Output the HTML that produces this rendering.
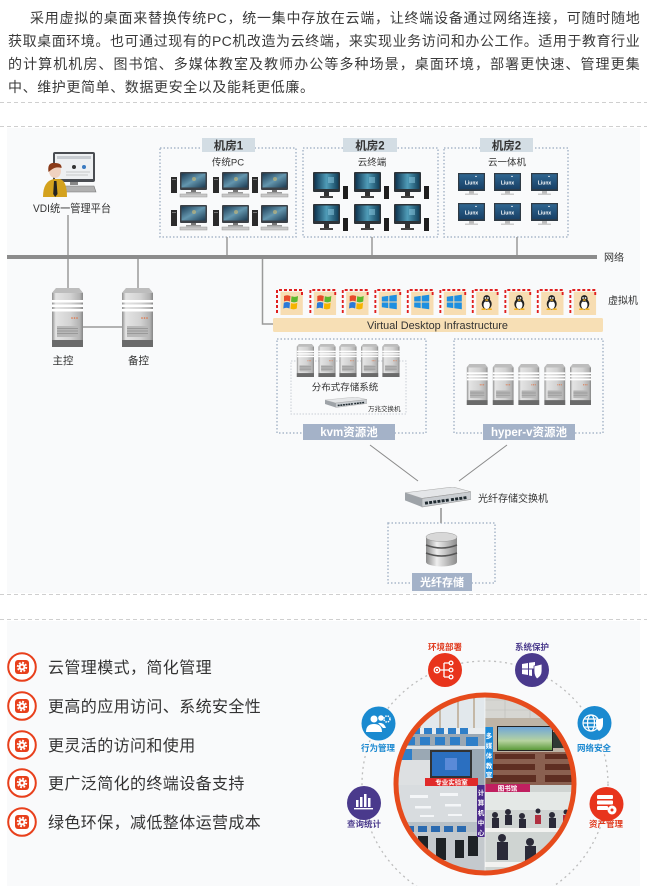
<!DOCTYPE html>
<html><head><meta charset="utf-8">
<style>
html,body{margin:0;padding:0;background:#fff;}
body{width:647px;height:886px;position:relative;overflow:hidden;font-family:"Liberation Sans","Noto Sans CJK SC",sans-serif;}
.p{position:absolute;left:8px;width:632px;font-size:14px;color:#3a3a3a;line-height:23px;height:23px;white-space:nowrap;letter-spacing:0.3px;}
.j{text-align:justify;text-align-last:justify;}
svg{position:absolute;left:0;top:0;}
</style></head><body>
<svg width="647" height="886" viewBox="0 0 647 886" font-family="Liberation Sans, Noto Sans CJK SC, sans-serif">
<defs>
<linearGradient id="scr1" x1="0" y1="0" x2="1" y2="1"><stop offset="0" stop-color="#1b3a52"/><stop offset="0.5" stop-color="#6496ae"/><stop offset="1" stop-color="#1b3a52"/></linearGradient>
<linearGradient id="scr2" x1="0" y1="0" x2="1" y2="0"><stop offset="0" stop-color="#0e3450"/><stop offset="0.5" stop-color="#4f9cb8"/><stop offset="1" stop-color="#13405a"/></linearGradient>
<linearGradient id="scr3" x1="0" y1="0" x2="0" y2="1"><stop offset="0" stop-color="#2f6590"/><stop offset="1" stop-color="#184066"/></linearGradient>
<linearGradient id="srvg" x1="0" y1="0" x2="1" y2="0"><stop offset="0" stop-color="#8e8e8e"/><stop offset="0.12" stop-color="#e4e4e4"/><stop offset="0.6" stop-color="#d2d2d2"/><stop offset="0.9" stop-color="#b2b2b2"/><stop offset="1" stop-color="#868686"/></linearGradient>
<linearGradient id="dbg" x1="0" y1="0" x2="1" y2="0"><stop offset="0" stop-color="#8a8a8a"/><stop offset="0.35" stop-color="#eeeeee"/><stop offset="1" stop-color="#8c8c8c"/></linearGradient>
<linearGradient id="sky" x1="0" y1="0" x2="0" y2="1"><stop offset="0" stop-color="#6fa6d8"/><stop offset="0.6" stop-color="#b6d3a0"/><stop offset="1" stop-color="#5c9a3a"/></linearGradient>

<symbol id="pcA" viewBox="0 0 37 26">
  <rect x="0" y="5" width="6" height="16" fill="#2b2b2b"/>
  <rect x="1" y="7" width="4" height="1" fill="#777"/>
  <rect x="9" y="0" width="27" height="18" rx="1" fill="#3b4046"/>
  <rect x="10.5" y="1.5" width="24" height="14" fill="url(#scr1)"/>
  <circle cx="23" cy="7" r="2" fill="#d8c070" opacity="0.55"/>
  <rect x="20" y="18" width="5" height="2" fill="#777"/>
  <rect x="15" y="20" width="15" height="1.5" fill="#999"/>
  <rect x="9" y="22" width="27" height="3" fill="#c8c8c8" stroke="#999" stroke-width="0.5"/>
</symbol>
<symbol id="pcB" viewBox="0 0 35 28">
  <rect x="0" y="0" width="27" height="20" rx="1" fill="#2d3338"/>
  <rect x="1.5" y="1.5" width="24" height="15.5" fill="url(#scr2)"/>
  <rect x="15" y="5" width="6" height="6" fill="#8cc8e0" opacity="0.5"/>
  <rect x="11" y="20" width="5" height="4" fill="#333"/>
  <rect x="7" y="24" width="13" height="2" fill="#444"/>
  <rect x="30" y="14" width="5" height="13" fill="#1e1e1e"/>
</symbol>
<symbol id="lnx" viewBox="0 0 27 23">
  <rect x="0" y="0" width="27" height="18" fill="#2f3a44"/>
  <rect x="1.2" y="1.2" width="24.6" height="15" fill="url(#scr3)"/>
  <text x="13.5" y="11.5" font-size="5" fill="#fff" text-anchor="middle" font-weight="bold">Liunx</text>
  <path d="M17,4 l1,-1.5 l1,1.5 z" fill="#fff"/>
  <rect x="11" y="18" width="5" height="2.5" fill="#bbb"/>
  <rect x="7" y="20.5" width="13" height="1.5" fill="#ccc"/>
</symbol>
<symbol id="srv" viewBox="0 0 31 59" preserveAspectRatio="none">
  <path d="M4,0 H27 L31,5 V59 H0 V5 Z" fill="url(#srvg)"/>
  <path d="M4,0 H27 L31,5 H0 Z" fill="#bdbdbd"/>
  <rect x="0" y="12" width="31" height="2.5" fill="#fff"/>
  <rect x="0" y="16.5" width="31" height="2.5" fill="#fff"/>
  <rect x="0" y="21" width="31" height="2.5" fill="#fff"/>
  <circle cx="20" cy="30" r="0.8" fill="#e07040"/><circle cx="22.5" cy="30" r="0.8" fill="#e07040"/><circle cx="25" cy="30" r="0.8" fill="#e07040"/>
  <rect x="5" y="38" width="21" height="11" fill="#b8b8b8"/>
  <path d="M5,40.5 H26 M5,43 H26 M5,45.5 H26" stroke="#8e8e8e" stroke-width="0.8"/>
  <rect x="0" y="52" width="31" height="7" fill="#6a6a6a"/>
</symbol>
<symbol id="sw" viewBox="0 0 66 22" preserveAspectRatio="none">
  <polygon points="0,6 48,0 66,5 17,12" fill="#e4e6e8" stroke="#aaa" stroke-width="0.6"/>
  <polygon points="17,12 66,5 66,13 17,21" fill="#c9cdd1" stroke="#999" stroke-width="0.6"/>
  <polygon points="0,6 17,12 17,21 0,14" fill="#9ea3a8"/>
  <path d="M20,17 L44,13.6" stroke="#1f2a30" stroke-width="3" stroke-dasharray="3 1.2"/>
  <path d="M46,13.3 L62,11" stroke="#1f2a30" stroke-width="3" stroke-dasharray="3 1.2"/>
</symbol>
<symbol id="xp" viewBox="0 0 16 16">
  <path d="M1,2 Q4,0.5 7.5,2 L7,7.5 Q4,6 1,7.5 Z" fill="#e84a2a"/>
  <path d="M8.5,2.3 Q12,3.5 15,2 L14.5,7.5 Q11.5,9 8,7.8 Z" fill="#5cb82e"/>
  <path d="M0.8,8.8 Q4,7.3 7,8.8 L6.5,14.5 Q3.5,13 0.3,14.5 Z" fill="#2a7ad8"/>
  <path d="M8,9.1 Q11.5,10.3 14.3,8.8 L13.8,14.5 Q10.8,16 7.5,14.8 Z" fill="#f5b400"/>
</symbol>
<symbol id="w8" viewBox="0 0 16 16">
  <path d="M0.5,2.8 L7,1.9 V7.5 H0.5 Z M8,1.8 L15.5,0.8 V7.5 H8 Z M0.5,8.5 H7 V14.1 L0.5,13.2 Z M8,8.5 H15.5 V15.2 L8,14.2 Z" fill="#1d8fe0"/>
</symbol>
<symbol id="tux" viewBox="0 0 16 16">
  <ellipse cx="8" cy="10" rx="5" ry="5.5" fill="#222"/>
  <ellipse cx="8" cy="11" rx="3.2" ry="4" fill="#fff"/>
  <circle cx="8" cy="4.5" r="3.4" fill="#222"/>
  <circle cx="6.8" cy="4" r="0.9" fill="#fff"/><circle cx="9.2" cy="4" r="0.9" fill="#fff"/>
  <ellipse cx="8" cy="6" rx="1.6" ry="0.8" fill="#f0b020"/>
  <ellipse cx="5" cy="15.2" rx="2.3" ry="0.9" fill="#f0b020"/><ellipse cx="11" cy="15.2" rx="2.3" ry="0.9" fill="#f0b020"/>
</symbol>
<symbol id="vmf" viewBox="0 0 27 26">
  <rect x="4.5" y="2.7" width="22.3" height="23.3" fill="#f7ddb2"/>
  <path d="M1,24 V1 H26 V8" fill="none" stroke="#e02020" stroke-width="2" stroke-dasharray="3 2"/>
</symbol>
<symbol id="gear" viewBox="0 0 30 30">
  <circle cx="15" cy="15" r="13.8" fill="#fff" stroke="#e8401c" stroke-width="2"/>
  <rect x="8" y="8" width="14" height="14" rx="3" fill="#e8401c"/>
  <circle cx="15" cy="15" r="4.2" fill="none" stroke="#fff" stroke-width="2" stroke-dasharray="1.8 1.5"/>
  <circle cx="15" cy="15" r="3.4" fill="#fff"/>
  <circle cx="15" cy="15" r="1.4" fill="#e8401c"/>
</symbol>
<clipPath id="cc"><circle cx="485" cy="784" r="88"/></clipPath>
</defs>

<g stroke="#cfcfcf" stroke-width="1" stroke-dasharray="4 3">
  <line x1="0" y1="102.5" x2="647" y2="102.5"/>
  <line x1="0" y1="126.5" x2="647" y2="126.5"/>
  <line x1="0" y1="594.5" x2="647" y2="594.5"/>
  <line x1="0" y1="619.5" x2="647" y2="619.5"/>
</g>
<rect x="7" y="128" width="633" height="465" fill="#f9fafb"/>
<rect x="7" y="621" width="633" height="265" fill="#f9fafb"/>

<!-- VDI admin -->
<rect x="53" y="152" width="42" height="30" rx="2" fill="#4a4d52"/>
<rect x="55" y="154" width="38" height="25" fill="#eef0f2"/>
<rect x="57" y="156" width="34" height="3" fill="#c9cdd2"/>
<circle cx="74" cy="167" r="2" fill="#333"/><circle cx="84" cy="167" r="2" fill="#3a7ac0"/>
<path d="M66,172 H90 M66,175 H88" stroke="#bbb" stroke-width="0.8"/>
<rect x="70" y="182" width="8" height="3" fill="#888"/>
<polygon points="58,186 94,186 96,192 56,192" fill="#b0b0b0" stroke="#777" stroke-width="0.6"/>
<path d="M43,197 Q43,181 54,179 L60,179 Q67,181 67,197 Z" fill="#d4a21e"/>
<polygon points="54,181 56.5,181 57.5,194 55.2,197 53.2,194" fill="#222"/>
<ellipse cx="55" cy="171" rx="6" ry="7" fill="#f0d2c0"/>
<path d="M48.5,172 Q47,162 55,163 Q62,163 61.5,168 Q56,166 51,170 Z" fill="#8a3a18"/>
<text x="33" y="212" font-size="11" fill="#333" textLength="78" lengthAdjust="spacingAndGlyphs">VDI统一管理平台</text>

<!-- rooms -->
<g fill="none" stroke="#a9b7c9" stroke-width="1.5" stroke-dasharray="1.5 2">
  <rect x="160" y="148" width="136" height="89"/>
  <rect x="303" y="148" width="135" height="89"/>
  <rect x="444" y="148" width="124" height="89"/>
</g>
<g fill="#d3dde4">
  <rect x="202" y="138" width="53" height="14"/>
  <rect x="343" y="138" width="54" height="14"/>
  <rect x="480" y="138" width="53" height="14"/>
</g>
<g font-size="11.5" font-weight="bold" fill="#333" text-anchor="middle">
  <text x="228.5" y="149.5">机房1</text>
  <text x="370" y="149.5">机房2</text>
  <text x="506.5" y="149.5">机房2</text>
</g>
<g font-size="9.5" fill="#333" text-anchor="middle">
  <text x="228" y="165.5">传统PC</text>
  <text x="372" y="165.5">云终端</text>
  <text x="507" y="165.5">云一体机</text>
</g>
<use href="#pcA" x="171" y="172" width="37" height="26"/>
<use href="#pcA" x="213" y="172" width="37" height="26"/>
<use href="#pcA" x="252" y="172" width="37" height="26"/>
<use href="#pcA" x="171" y="205" width="37" height="26"/>
<use href="#pcA" x="213" y="205" width="37" height="26"/>
<use href="#pcA" x="252" y="205" width="37" height="26"/>
<use href="#pcB" x="313" y="172" width="35" height="28"/>
<use href="#pcB" x="354" y="172" width="35" height="28"/>
<use href="#pcB" x="394" y="172" width="35" height="28"/>
<use href="#pcB" x="313" y="204" width="35" height="28"/>
<use href="#pcB" x="354" y="204" width="35" height="28"/>
<use href="#pcB" x="394" y="204" width="35" height="28"/>
<use href="#lnx" x="458" y="173" width="27" height="23"/>
<use href="#lnx" x="494" y="173" width="27" height="23"/>
<use href="#lnx" x="531" y="173" width="27" height="23"/>
<use href="#lnx" x="458" y="203" width="27" height="23"/>
<use href="#lnx" x="494" y="203" width="27" height="23"/>
<use href="#lnx" x="531" y="203" width="27" height="23"/>

<!-- connectors -->
<g stroke="#9a9a9a" stroke-width="1.5" fill="none">
  <line x1="68" y1="215" x2="68" y2="256"/>
  <line x1="227" y1="237" x2="227" y2="256"/>
  <line x1="372" y1="237" x2="372" y2="256"/>
  <line x1="517" y1="237" x2="517" y2="256"/>
  <line x1="68" y1="258" x2="68" y2="289"/>
  <line x1="138" y1="258" x2="138" y2="289"/>
  <line x1="83" y1="327" x2="122" y2="327"/>
  <path d="M262.5,258 V324 H274"/>
</g>
<rect x="7" y="255" width="590" height="4" fill="#8c8c8c"/>
<text x="604" y="261" font-size="10" fill="#333">网络</text>

<use href="#srv" x="52" y="288" width="31" height="59"/>
<use href="#srv" x="122" y="288" width="31" height="59"/>
<text x="63" y="364" font-size="10.5" fill="#333" text-anchor="middle">主控</text>
<text x="138.5" y="364" font-size="10.5" fill="#333" text-anchor="middle">备控</text>

<!-- VMs -->
<g>
  <use href="#vmf" x="276" y="289" width="27" height="26"/><use href="#xp" x="283" y="294" width="16" height="16"/>
  <use href="#vmf" x="309.3" y="289" width="27" height="26"/><use href="#xp" x="316.3" y="294" width="16" height="16"/>
  <use href="#vmf" x="341.7" y="289" width="27" height="26"/><use href="#xp" x="348.7" y="294" width="16" height="16"/>
  <use href="#vmf" x="374.3" y="289" width="27" height="26"/><use href="#w8" x="381.3" y="294" width="16" height="16"/>
  <use href="#vmf" x="406.7" y="289" width="27" height="26"/><use href="#w8" x="413.7" y="294" width="16" height="16"/>
  <use href="#vmf" x="439.3" y="289" width="27" height="26"/><use href="#w8" x="446.3" y="294" width="16" height="16"/>
  <use href="#vmf" x="471.7" y="289" width="27" height="26"/><use href="#tux" x="478.7" y="294" width="16" height="16"/>
  <use href="#vmf" x="504.3" y="289" width="27" height="26"/><use href="#tux" x="511.3" y="294" width="16" height="16"/>
  <use href="#vmf" x="536.7" y="289" width="27" height="26"/><use href="#tux" x="543.7" y="294" width="16" height="16"/>
  <use href="#vmf" x="569.3" y="289" width="27" height="26"/><use href="#tux" x="576.3" y="294" width="16" height="16"/>
</g>
<text x="608" y="304" font-size="10" fill="#333">虚拟机</text>
<rect x="273" y="318" width="330" height="14" rx="1.5" fill="#f7dfb5"/>
<text x="367" y="329" font-size="11" fill="#333" textLength="141" lengthAdjust="spacingAndGlyphs">Virtual Desktop Infrastructure</text>

<!-- pools -->
<g fill="none" stroke="#a9b7c9" stroke-width="1.5" stroke-dasharray="1.5 2">
  <rect x="277" y="339" width="149" height="94"/>
  <rect x="454" y="339" width="149" height="94"/>
  <rect x="388" y="523" width="107" height="60"/>
</g>
<rect x="291" y="361" width="115" height="53" fill="none" stroke="#c9ced6" stroke-width="1" stroke-dasharray="1.5 1.5"/>
<use href="#srv" x="296.7" y="344" width="17.3" height="33"/>
<use href="#srv" x="318.3" y="344" width="17.3" height="33"/>
<use href="#srv" x="339.3" y="344" width="17.3" height="33"/>
<use href="#srv" x="361" y="344" width="17.3" height="33"/>
<use href="#srv" x="382.3" y="344" width="17.3" height="33"/>
<text x="345" y="390.5" font-size="9.5" fill="#333" text-anchor="middle">分布式存储系统</text>
<use href="#sw" x="325" y="397" width="42" height="11"/>
<text x="368" y="411" font-size="6.5" fill="#333">万兆交换机</text>
<use href="#srv" x="466.7" y="364" width="21" height="41"/>
<use href="#srv" x="492.7" y="364" width="21" height="41"/>
<use href="#srv" x="518.3" y="364" width="21" height="41"/>
<use href="#srv" x="544.3" y="364" width="21" height="41"/>
<use href="#srv" x="570" y="364" width="21" height="41"/>
<rect x="303" y="424" width="92" height="16" fill="#a4b2c8"/>
<rect x="483" y="424" width="92" height="16" fill="#a4b2c8"/>
<text x="349" y="436" font-size="11.5" font-weight="bold" fill="#fff" text-anchor="middle">kvm资源池</text>
<text x="529" y="436" font-size="11.5" font-weight="bold" fill="#fff" text-anchor="middle">hyper-v资源池</text>

<!-- storage -->
<g stroke="#8a8a8a" stroke-width="1">
  <line x1="370" y1="445" x2="418" y2="481"/>
  <line x1="507" y1="445" x2="459" y2="481"/>
</g>
<use href="#sw" x="405" y="487" width="66" height="21"/>
<text x="478" y="502" font-size="10" fill="#333">光纤存储交换机</text>
<line x1="441" y1="508" x2="441" y2="523" stroke="#aaa" stroke-width="2"/>
<g>
  <rect x="426" y="537" width="31" height="25" fill="url(#dbg)"/>
  <ellipse cx="441.5" cy="562" rx="15.5" ry="4.5" fill="url(#dbg)"/>
  <path d="M426,545 Q441.5,551 457,545 M426,553 Q441.5,559 457,553" stroke="#555" stroke-width="1.6" fill="none"/>
  <ellipse cx="441.5" cy="537" rx="15.5" ry="4.5" fill="#d8d8d8" stroke="#999" stroke-width="0.5"/>
</g>
<rect x="412" y="573" width="60" height="18" fill="#a4b2c8"/>
<text x="442" y="586" font-size="11" font-weight="bold" fill="#fff" text-anchor="middle">光纤存储</text>

<!-- list -->
<use href="#gear" x="7" y="652" width="30" height="30"/>
<use href="#gear" x="7" y="691" width="30" height="30"/>
<use href="#gear" x="7" y="730" width="30" height="30"/>
<use href="#gear" x="7" y="768" width="30" height="30"/>
<use href="#gear" x="7" y="807" width="30" height="30"/>
<g font-size="16" fill="#333" letter-spacing="0.4">
  <text x="48" y="673">云管理模式，简化管理</text>
  <text x="48" y="712">更高的应用访问、系统安全性</text>
  <text x="48" y="751">更灵活的访问和使用</text>
  <text x="48" y="789">更广泛简化的终端设备支持</text>
  <text x="48" y="828">绿色环保，减低整体运营成本</text>
</g>

<!-- circle graphic -->
<circle cx="485" cy="784" r="123" fill="none" stroke="#bdbdbd" stroke-width="1.3" stroke-dasharray="2 3.5"/>
<g clip-path="url(#cc)">
  <rect x="390" y="690" width="95" height="95" fill="#9aa8b4"/>
  <rect x="390" y="690" width="95" height="40" fill="#e2e8ec"/>
  <g stroke="#b9a890" stroke-width="1.5"><line x1="420" y1="695" x2="420" y2="730"/><line x1="440" y1="695" x2="440" y2="730"/><line x1="458" y1="695" x2="458" y2="730"/><line x1="474" y1="695" x2="474" y2="730"/></g>
  <rect x="390" y="728" width="95" height="6" fill="#e8ecef"/>
  <g fill="#2f7fc8">
    <rect x="412" y="728" width="8" height="6"/><rect x="424" y="728" width="8" height="6"/><rect x="436" y="728" width="8" height="6"/><rect x="448" y="728" width="8" height="6"/><rect x="460" y="728" width="8" height="6"/>
    <rect x="405" y="737" width="10" height="8"/><rect x="420" y="737" width="10" height="8"/><rect x="435" y="737" width="10" height="8"/><rect x="450" y="737" width="10" height="8"/><rect x="466" y="737" width="12" height="9"/>
    <rect x="398" y="748" width="14" height="12"/>
  </g>
  <rect x="390" y="746" width="95" height="3" fill="#dfe3e6"/>
  <rect x="430" y="750" width="42" height="28" fill="#333"/>
  <rect x="432" y="752" width="38" height="24" fill="#2b6fc0"/>
  <rect x="445" y="758" width="12" height="12" fill="#5a8ad8"/>
  <rect x="390" y="760" width="40" height="25" fill="#dde0e2"/>
  <rect x="485" y="690" width="95" height="95" fill="#7a4a3a"/>
  <rect x="485" y="690" width="95" height="30" fill="#d6d6d2"/>
  <g stroke="#bdbdb8" stroke-width="0.6"><line x1="485" y1="700" x2="580" y2="700"/><line x1="485" y1="710" x2="580" y2="710"/><line x1="505" y1="690" x2="505" y2="720"/><line x1="530" y1="690" x2="530" y2="720"/><line x1="555" y1="690" x2="555" y2="720"/></g>
  <rect x="485" y="718" width="95" height="34" fill="#beb4a6"/>
  <rect x="497" y="726" width="56" height="25" fill="#222"/>
  <rect x="498" y="727" width="54" height="23" fill="url(#sky)"/>
  <rect x="553" y="732" width="27" height="16" fill="#2e3a34"/>
  <rect x="485" y="752" width="95" height="33" fill="#8a6050"/>
  <g fill="#5e2e22"><rect x="495" y="754" width="40" height="5"/><rect x="545" y="754" width="35" height="5"/><rect x="493" y="764" width="42" height="6"/><rect x="545" y="764" width="35" height="6"/><rect x="491" y="775" width="45" height="7"/><rect x="545" y="775" width="35" height="7"/></g>
  <rect x="390" y="785" width="95" height="95" fill="#d8dcdf"/>
  <g fill="#f4f6f8"><rect x="410" y="795" width="18" height="3"/><rect x="440" y="793" width="18" height="3"/><rect x="415" y="806" width="16" height="2.5"/><rect x="445" y="804" width="16" height="2.5"/><rect x="420" y="815" width="14" height="2"/><rect x="448" y="814" width="14" height="2"/></g>
  <rect x="390" y="822" width="95" height="10" fill="#b8c0c6"/>
  <g fill="#2a6ab0"><rect x="405" y="826" width="9" height="6"/><rect x="418" y="826" width="9" height="6"/><rect x="431" y="826" width="9" height="6"/><rect x="444" y="826" width="9" height="6"/><rect x="457" y="826" width="9" height="6"/></g>
  <rect x="390" y="832" width="95" height="48" fill="#c4c9cd"/>
  <g fill="#1e2226"><rect x="402" y="838" width="9" height="16"/><rect x="418" y="836" width="10" height="20"/><rect x="436" y="838" width="10" height="22"/><rect x="455" y="840" width="9" height="18"/><rect x="468" y="836" width="10" height="20"/></g>
  <rect x="485" y="785" width="95" height="95" fill="#cfd4d2"/>
  <rect x="485" y="792" width="95" height="18" fill="#e4e8e6"/>
  <g fill="#2a2a38">
    <circle cx="495" cy="815" r="3"/><circle cx="508" cy="812" r="3"/><circle cx="522" cy="816" r="3"/><circle cx="538" cy="811" r="2.5"/><circle cx="552" cy="815" r="3"/><circle cx="566" cy="812" r="2.5"/>
    <rect x="492" y="818" width="7" height="10"/><rect x="505" y="815" width="7" height="10"/><rect x="519" y="819" width="7" height="10"/><rect x="549" y="818" width="7" height="10"/>
    <circle cx="502" cy="838" r="4"/><circle cx="530" cy="842" r="4"/><circle cx="558" cy="838" r="4"/>
    <rect x="497" y="842" width="11" height="18"/><rect x="525" y="846" width="11" height="18"/><rect x="553" y="842" width="11" height="18"/>
  </g>
  <g fill="#b03040"><rect x="535" y="815" width="6" height="9"/><rect x="563" y="815" width="6" height="9"/></g>
  <g fill="#f2f2f0"><rect x="485" y="828" width="95" height="4"/><rect x="485" y="862" width="95" height="5"/></g>
  <rect x="425" y="778" width="53" height="8" fill="#e02a2a"/>
  <rect x="485" y="727" width="8" height="51" fill="#1a8ad8"/>
  <rect x="477" y="785" width="8" height="52" fill="#4a2a8a"/>
  <rect x="485" y="784" width="45" height="8" fill="#c02060"/>
</g>
<rect x="484.5" y="696" width="1" height="176" fill="#fff" opacity="0.6"/>
<text x="451.5" y="784.7" font-size="6.5" fill="#fff" text-anchor="middle" font-weight="bold">专业实验室</text>
<text x="507.5" y="790.7" font-size="6.5" fill="#fff" text-anchor="middle" font-weight="bold">图书馆</text>
<g font-size="6.5" fill="#fff" font-weight="bold" text-anchor="middle">
  <text x="489" y="738">多</text><text x="489" y="748">媒</text><text x="489" y="758">体</text><text x="489" y="768">教</text><text x="489" y="777">室</text>
  <text x="481" y="795">计</text><text x="481" y="805">算</text><text x="481" y="815">机</text><text x="481" y="825">中</text><text x="481" y="835">心</text>
</g>
<circle cx="485" cy="784" r="89" fill="none" stroke="#e64b1c" stroke-width="5"/>

<circle cx="445" cy="670" r="17" fill="#e8341c"/>
<g stroke="#fff" stroke-width="1.3" fill="none">
  <circle cx="437" cy="670" r="2.8"/>
  <path d="M440,670 H444 M444,663 V677 M444,663 H449 M444,670 H449 M444,677 H449"/>
  <circle cx="451" cy="663" r="1.9"/><circle cx="451" cy="670" r="1.9"/><circle cx="451" cy="677" r="1.9"/>
</g>
<circle cx="437" cy="670" r="1.2" fill="#fff"/>
<circle cx="532" cy="670" r="17" fill="#4a3a8c"/>
<path d="M522,664 L528,663 V668.5 H522 Z M529,662.8 L535,662 V668.5 H529 Z M522,669.5 H528 V675 L522,674 Z M529,669.5 H532 V676 L529,675.5 Z" fill="#fff"/>
<path d="M534,666 Q538,665 542,664 V671 Q542,676 537,679 Q534,676 534,671 Z" fill="#fff" stroke="#4a3a8c" stroke-width="0.8"/>
<circle cx="378.5" cy="723.5" r="17" fill="#1a8ad0"/>
<g fill="#fff">
  <circle cx="374" cy="719" r="3.5"/><path d="M366,732 Q366,724 374,724 Q382,724 382,732 Z"/>
  <circle cx="381" cy="718" r="2.8"/><path d="M378,723 Q384,722 386,728 H383 Z"/>
  <circle cx="387" cy="719" r="3" fill="none" stroke="#fff" stroke-width="1.6" stroke-dasharray="1.4 1"/>
</g>
<circle cx="594.5" cy="723" r="17" fill="#1a8ad0"/>
<g fill="none" stroke="#fff" stroke-width="1.2">
  <circle cx="591" cy="723" r="8"/>
  <ellipse cx="591" cy="723" rx="3.5" ry="8"/>
  <path d="M583,723 H599 M584.5,719 H597.5 M584.5,727 H597.5"/>
</g>
<path d="M596,720 Q599,719 603,718 V724 Q603,729 599,731 Q596,729 596,724 Z" fill="#fff"/>
<circle cx="364" cy="803" r="17" fill="#4a3a8c"/>
<g fill="#fff"><rect x="356" y="800" width="2.5" height="7"/><rect x="360" y="797" width="2.5" height="10"/><rect x="364" y="794" width="2.5" height="13"/><rect x="368" y="798" width="2.5" height="9"/><rect x="354" y="808" width="19" height="1.4"/></g>
<circle cx="606.5" cy="804" r="17" fill="#e8341c"/>
<g fill="#fff"><rect x="597" y="795" width="16" height="4" rx="1"/><rect x="597" y="800.5" width="16" height="4" rx="1"/><rect x="597" y="806" width="11" height="4" rx="1"/></g>
<circle cx="612" cy="810" r="4.5" fill="#fff"/><circle cx="612" cy="810" r="1.5" fill="#e8341c"/>
<g font-size="8.5" font-weight="bold" text-anchor="middle">
  <text x="445" y="650" fill="#e03a1e">环境部署</text>
  <text x="532" y="650" fill="#4a3a8c">系统保护</text>
  <text x="378" y="751" fill="#1a88d0">行为管理</text>
  <text x="594" y="751" fill="#1a88d0">网络安全</text>
  <text x="364" y="827" fill="#4a3a8c">查询统计</text>
  <text x="606" y="827" fill="#e03a1e">资产管理</text>
</g>
</svg>

<div class="p j" style="top:7px;left:30px;width:610px">采用虚拟的桌面来替换传统PC，统一集中存放在云端，让终端设备通过网络连接，可随时随地</div>
<div class="p j" style="top:30px">获取桌面环境。也可通过现有的PC机改造为云终端，来实现业务访问和办公工作。适用于教育行业</div>
<div class="p j" style="top:53px">的计算机机房、图书馆、多媒体教室及教师办公等多种场景，桌面环境，部署更快速、管理更集</div>
<div class="p" style="top:76px;letter-spacing:0.6px">中、维护更简单、数据更安全以及能耗更低廉。</div>
</body></html>
